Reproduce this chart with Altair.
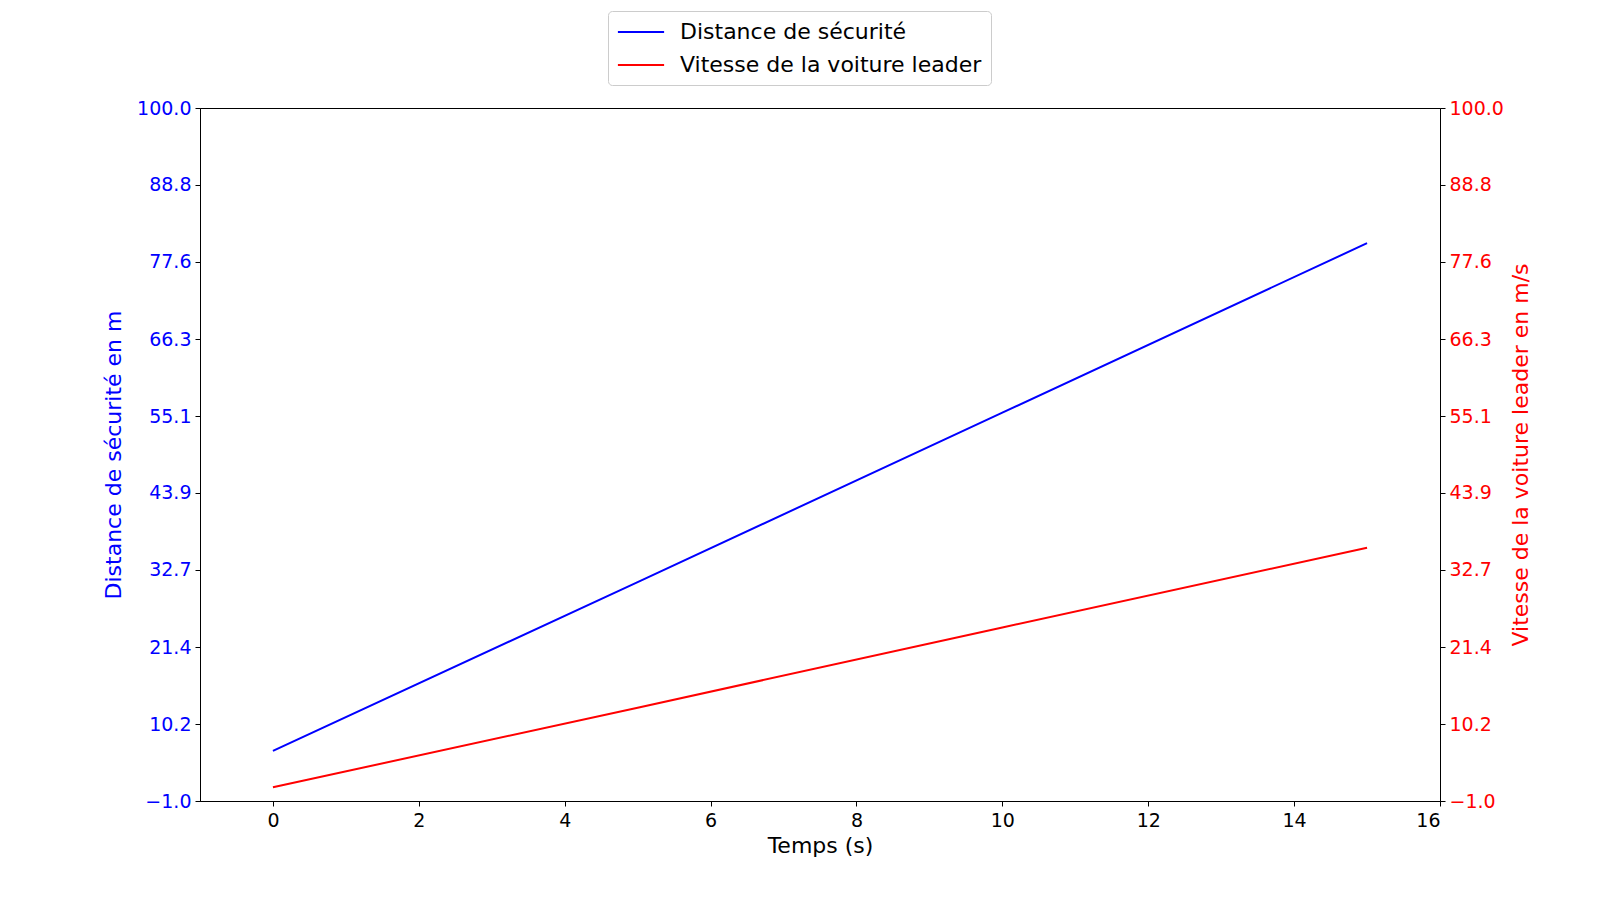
import altair as alt
import pandas as pd

# Data
temps = [0, 5, 10, 15]
distance = [6.3, 30.9, 55.6, 80.3]
vitesse = [1.0, 12.6, 24.3, 35.9]
y_ticks = [-1.0, 10.2, 21.4, 32.7, 43.9, 55.1, 66.3, 77.6, 88.8, 100.0]
x_ticks = [0, 2, 4, 6, 8, 10, 12, 14, 16]
serie_dist = "Distance de sécurité"
serie_vit = "Vitesse de la voiture leader"

df_dist = pd.DataFrame({"t": temps, "v": distance, "serie": serie_dist})
df_vit = pd.DataFrame({"t": temps, "v": vitesse, "serie": serie_vit})

FONT = "DejaVu Sans"
label_expr = "replace(format(datum.value, '.1f'), '-', '\u2212')"

x_enc = alt.X(
    "t:Q",
    scale=alt.Scale(domain=[-1, 16], nice=False, zero=False),
    axis=alt.Axis(values=x_ticks, title="Temps (s)", labelExpr="replace(format(datum.value, 'd'), '-', '\u2212')"),
)

color_enc = alt.Color(
    "serie:N",
    scale=alt.Scale(domain=[serie_dist, serie_vit], range=["#0000ff", "#ff0000"]),
    legend=alt.Legend(
        title=None,
        orient="none",
        legendX=408,
        legendY=-97,
        symbolType="M-2.1,0L2.1,0",
        symbolSize=484,
        symbolStrokeWidth=2,
        symbolOffset=12,
        rowPadding=10,
        labelOffset=27,
        labelLimit=0,
        labelFontSize=22,
        labelFont=FONT,
        labelColor="black",
        strokeColor="#cccccc",
        cornerRadius=4,
        padding=9,
        fillColor="white",
    ),
)

left = alt.Chart(df_dist).mark_line(strokeWidth=2).encode(
    x=x_enc,
    y=alt.Y(
        "v:Q",
        scale=alt.Scale(domain=[-1, 100], nice=False, zero=False),
        axis=alt.Axis(
            values=y_ticks,
            labelExpr=label_expr,
            title="Distance de sécurité en m",
            orient="left",
            labelColor="#0000ff",
            titleColor="#0000ff",
            titlePadding=11,
        ),
    ),
    color=color_enc,
)

right = alt.Chart(df_vit).mark_line(strokeWidth=2).encode(
    x=x_enc,
    y=alt.Y(
        "v:Q",
        scale=alt.Scale(domain=[-1, 100], nice=False, zero=False),
        axis=alt.Axis(
            values=y_ticks,
            labelExpr=label_expr,
            title="Vitesse de la voiture leader en m/s",
            orient="right",
            labelColor="#ff0000",
            titleColor="#ff0000",
            titleAngle=270,
            titleX=80,
            titleY=346.5,
            titleBaseline="middle",
            titleAlign="center",
        ),
    ),
    color=color_enc,
)

chart = (
    alt.layer(left, right)
    .resolve_scale(y="independent")
    .properties(
        width=1240,
        height=693,
        autosize=alt.AutoSizeParams(type="none"),
        padding={"left": 192, "top": 100, "right": 140, "bottom": 85},
        background="white",
    )
    .configure_view(stroke="black", strokeWidth=1)
    .configure_axis(
        grid=False,
        domainColor="black",
        tickColor="black",
        tickSize=5,
        labelFont=FONT,
        titleFont=FONT,
        labelFontSize=19,
        titleFontSize=22,
        titleFontWeight="normal",
        labelPadding=4,
        labelColor="black",
        titleColor="black",
    )
    .configure_axisX(titlePadding=5, labelPadding=5)
)

chart.save("out.html", embed_options={"renderer": "svg", "actions": False})
